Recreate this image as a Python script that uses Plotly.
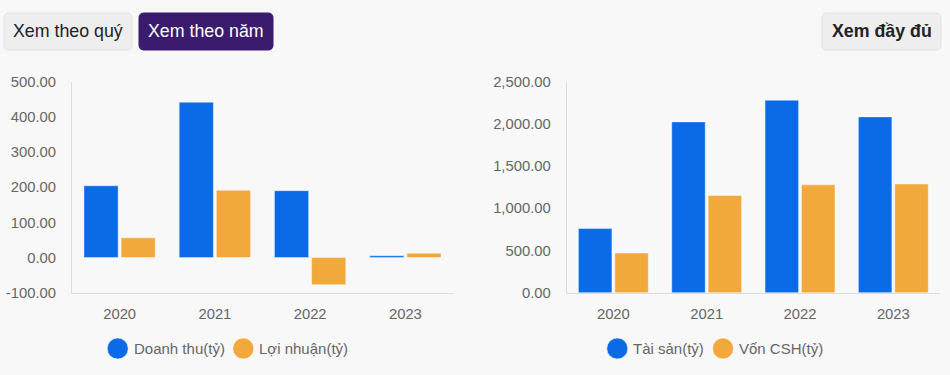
import plotly.graph_objects as go

years = ["2020", "2021", "2022", "2023"]
doanh_thu = [204, 441, 190, 5]
loi_nhuan = [56, 191, -77, 12]
tai_san = [760, 2022, 2279, 2081]
von_csh = [470, 1151, 1277, 1286]

left_ticks = [-100, 0, 100, 200, 300, 400, 500]
left_ticktext = ["-100.00", "0.00", "100.00", "200.00", "300.00", "400.00", "500.00"]
right_ticks = [0, 500, 1000, 1500, 2000, 2500]
right_ticktext = ["0.00", "500.00", "1,000.00", "1,500.00", "2,000.00", "2,500.00"]

BLUE = "#0b6be6"
ORANGE = "#f2a93c"
FONT = "Liberation Sans, Arial, sans-serif"
W, H = 950, 375

fig = go.Figure()
bar_line = dict(color="rgba(255,255,255,0.4)", width=1)
fig.add_bar(x=years, y=doanh_thu, marker=dict(color=BLUE, line=bar_line), xaxis="x", yaxis="y", showlegend=False)
fig.add_bar(x=years, y=loi_nhuan, marker=dict(color=ORANGE, line=bar_line), xaxis="x", yaxis="y", showlegend=False)
fig.add_bar(x=years, y=tai_san, marker=dict(color=BLUE, line=bar_line), xaxis="x2", yaxis="y2", showlegend=False)
fig.add_bar(x=years, y=von_csh, marker=dict(color=ORANGE, line=bar_line), xaxis="x2", yaxis="y2", showlegend=False)

ydom = [1 - 292.8 / H, 1 - 81.5 / H]
axis_common = dict(showgrid=False, zeroline=False, showline=True, linecolor="#dcdcdc", linewidth=1,
                   tickfont=dict(family=FONT, size=14.8, color="#666666"), ticks="", automargin=False)
fig.update_layout(
    width=W, height=H,
    margin=dict(l=0, r=0, t=0, b=0, pad=0, autoexpand=False),
    paper_bgcolor="#f8f8f8", plot_bgcolor="#f8f8f8",
    barmode="group", bargap=0.22, bargroupgap=0.08,
    font=dict(family=FONT),
    hovermode=False,
    xaxis=dict(domain=[72 / W, 453 / W], anchor="y", ticklabelstandoff=7, **axis_common),
    yaxis=dict(domain=ydom, anchor="x", range=[-100, 500], tickvals=left_ticks, ticktext=left_ticktext,
               ticklabelstandoff=12, **axis_common),
    xaxis2=dict(domain=[566.7 / W, 940 / W], anchor="y2", ticklabelstandoff=7, **axis_common),
    yaxis2=dict(domain=ydom, anchor="x2", range=[0, 2500], tickvals=right_ticks, ticktext=right_ticktext,
                ticklabelstandoff=12, **axis_common),
)

shapes = []
annotations = []


def rounded(x0, y0, x1, y1, r):
    def px(x):
        return x / W

    def py(y):
        return 1 - y / H
    rx, ry = r / W, r / H
    return (f"M {px(x0)+rx},{py(y0)} L {px(x1)-rx},{py(y0)} Q {px(x1)},{py(y0)} {px(x1)},{py(y0)-ry} "
            f"L {px(x1)},{py(y1)+ry} Q {px(x1)},{py(y1)} {px(x1)-rx},{py(y1)} "
            f"L {px(x0)+rx},{py(y1)} Q {px(x0)},{py(y1)} {px(x0)},{py(y1)+ry} "
            f"L {px(x0)},{py(y0)-ry} Q {px(x0)},{py(y0)} {px(x0)+rx},{py(y0)} Z")


def button(x0, x1, text, bg, fg, bold=False, border="#e2e2e2"):
    shapes.append(dict(type="path", xref="paper", yref="paper", layer="above",
                       path=rounded(x0, 13, x1, 50, 5), fillcolor=bg, line=dict(color=border, width=1)))
    annotations.append(dict(xref="paper", yref="paper", x=(x0 + x1) / 2 / W, y=1 - 31.5 / H,
                            text=("<b>%s</b>" % text) if bold else text, showarrow=False,
                            font=dict(family=FONT, size=17.8, color=fg), xanchor="center", yanchor="middle"))


button(4, 132, "Xem theo quý", "#eeeeee", "#222222")
button(139, 273, "Xem theo năm", "#3a1b6d", "#ffffff", border="#3a1b6d")
button(822, 941, "Xem đầy đủ", "#eeeeee", "#222222", bold=True)


def legend_item(cx, text, color):
    r = 10.5
    cy = 348.5
    shapes.append(dict(type="circle", xref="paper", yref="paper",
                       x0=(cx - r) / W, x1=(cx + r) / W, y0=1 - (cy + r) / H, y1=1 - (cy - r) / H,
                       fillcolor=color, line=dict(color="rgba(255,255,255,0.5)", width=1)))
    annotations.append(dict(xref="paper", yref="paper", x=(cx + 14) / W, y=1 - cy / H, text=text,
                            showarrow=False, xanchor="left", yanchor="middle",
                            font=dict(family=FONT, size=15, color="#666666")))


legend_item(117.7, "Doanh thu(tỷ)", BLUE)
legend_item(243.3, "Lợi nhuận(tỷ)", ORANGE)
legend_item(617.3, "Tài sản(tỷ)", BLUE)
legend_item(723, "Vốn CSH(tỷ)", ORANGE)

fig.update_layout(shapes=shapes, annotations=annotations)
fig.write_html("out.html", config={"displayModeBar": False},
               post_script="document.body.style.margin='0';document.body.style.background='#f8f8f8';")
